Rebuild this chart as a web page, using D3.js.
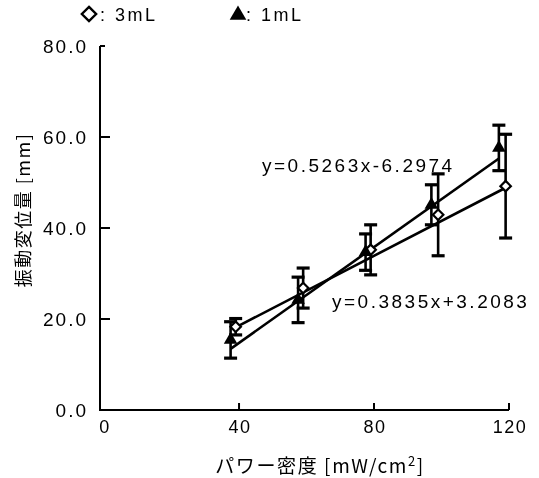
<!DOCTYPE html>
<html>
<head>
<meta charset="utf-8">
<script src="https://cdn.jsdelivr.net/npm/d3@7"></script>
<style>
  html, body { margin: 0; padding: 0; background: #fff; }
  svg { display: block; will-change: transform; }
  text { font-family: "Liberation Sans", Arial, sans-serif; fill: #000; }
</style>
</head>
<body>
<svg id="chart" width="539" height="478"></svg>
<script>
// Vibration displacement vs. power density, two liquid volumes
const xTicks = [0, 40, 80, 120];
const yTicks = [0, 20, 40, 60, 80];

// 3 mL series (open diamonds)
const x3 = [39, 59, 79, 99, 119];
const mean3 = [18.3, 26.8, 35.2, 42.9, 49.2];
const sd3 = [1.8, 4.4, 5.5, 9.0, 11.4];

// 1 mL series (filled triangles)
const x1 = [37.5, 57.5, 77.5, 97, 117];
const mean1 = [15.4, 24.2, 34.7, 45.1, 57.6];
const sd1 = [4.0, 5.0, 4.0, 4.4, 5.0];

// linear fits: [slope, intercept]
const fit3 = [0.3835, 3.2083];
const fit1 = [0.5263, -6.2974];
const eq3 = "y=0.3835x+3.2083";
const eq1 = "y=0.5263x-6.2974";

const svg = d3.select("#chart");
const x = d3.scaleLinear().domain([-1.2, 120]).range([100, 509]);
const y = d3.scaleLinear().domain([0, 80]).range([410, 46]);
const x0 = x.range()[0];

// axes
const g = svg.append("g");
g.append("path")
  .attr("d", `M${x0},${y(80)}V${y(0)}H${x(120)}`)
  .attr("fill", "none").attr("stroke", "#000").attr("stroke-width", 2);

// y ticks (pointing inward)
g.selectAll(".yt").data(yTicks.filter(d => d > 0)).join("line")
  .attr("x1", x0).attr("x2", d => x0 + (d === 80 ? 5 : 10))
  .attr("y1", d => y(d)).attr("y2", d => y(d))
  .attr("stroke", "#000").attr("stroke-width", 2);
g.selectAll(".yl").data(yTicks).join("text")
  .attr("x", 88).attr("y", d => y(d))
  .attr("text-anchor", "end").attr("dominant-baseline", "central")
  .attr("font-size", 19).attr("letter-spacing", 2)
  .text(d => d3.format(".1f")(d));

// x ticks (pointing inward)
g.selectAll(".xt").data(xTicks.filter(d => d > 0)).join("line")
  .attr("x1", d => x(d)).attr("x2", d => x(d))
  .attr("y1", y(0)).attr("y2", y(0) - 7)
  .attr("stroke", "#000").attr("stroke-width", 2);
g.selectAll(".xl").data(xTicks).join("text")
  .attr("x", d => x(d) + 1).attr("y", 433)
  .attr("text-anchor", "middle")
  .attr("font-size", 18).attr("letter-spacing", 1.5)
  .text(d => d);

// axis titles
svg.append("text")
  .attr("transform", "translate(22,210) rotate(-90)")
  .attr("text-anchor", "middle").attr("dominant-baseline", "central")
  .attr("font-size", 18).attr("letter-spacing", 1.5)
  .style("font-family", "'Noto Sans CJK JP', sans-serif")
  .style("fill", "#000")
  .text("振動変位量 [mm]");
const xt = svg.append("text")
  .attr("x", 320).attr("y", 473)
  .attr("text-anchor", "middle")
  .attr("font-size", 19).attr("letter-spacing", 1.6)
  .style("font-family", "'Noto Sans CJK JP', sans-serif")
  .style("fill", "#000");
xt.append("tspan").text("パワー密度 [mW/cm");
xt.append("tspan").attr("font-size", 13).attr("dy", -7).text("2");
xt.append("tspan").attr("dy", 7).text("]");

// fit lines
function fitLine(xs, fit) {
  const xa = d3.min(xs), xb = d3.max(xs);
  return [[xa, fit[0] * xa + fit[1]], [xb, fit[0] * xb + fit[1]]];
}
const line = d3.line().x(d => x(d[0])).y(d => y(d[1]));
[[x3, fit3], [x1, fit1]].forEach(([xs, fit]) => {
  svg.append("path").attr("d", line(fitLine(xs, fit)))
    .attr("fill", "none").attr("stroke", "#000").attr("stroke-width", 2.6);
});

// error bars
function errorBars(xs, means, sds) {
  const data = xs.map((v, i) => ({ x: v, m: means[i], s: sds[i] }));
  const eg = svg.append("g").attr("stroke", "#000");
  eg.selectAll(".v").data(data).join("line")
    .attr("x1", d => x(d.x)).attr("x2", d => x(d.x))
    .attr("y1", d => y(d.m - d.s)).attr("y2", d => y(d.m + d.s))
    .attr("stroke-width", 2.6);
  eg.selectAll(".c").data(data.flatMap(d => [d.m - d.s, d.m + d.s].map(v => ({ x: d.x, v }))))
    .join("line")
    .attr("x1", d => x(d.x) - 6.5).attr("x2", d => x(d.x) + 6.5)
    .attr("y1", d => y(d.v)).attr("y2", d => y(d.v))
    .attr("stroke-width", 3.2);
}
errorBars(x3, mean3, sd3);
errorBars(x1, mean1, sd1);

// markers
const diamond = d3.symbol().type(d3.symbolDiamond2).size(70);
const triangle = d3.symbol().type(d3.symbolTriangle).size(80);
svg.append("g").selectAll("path").data(x3.map((v, i) => [v, mean3[i]])).join("path")
  .attr("d", diamond).attr("transform", d => `translate(${x(d[0])},${y(d[1])})`)
  .attr("fill", "#fff").attr("stroke", "#000").attr("stroke-width", 2.2);
svg.append("g").selectAll("path").data(x1.map((v, i) => [v, mean1[i]])).join("path")
  .attr("d", triangle).attr("transform", d => `translate(${x(d[0])},${y(d[1])})`)
  .attr("fill", "#000");

// equation labels
svg.append("text").attr("x", 262).attr("y", 172)
  .attr("font-size", 19).attr("letter-spacing", 2.5).text(eq1);
svg.append("text").attr("x", 332).attr("y", 308)
  .attr("font-size", 19).attr("letter-spacing", 2.5).text(eq3);

// legend
svg.append("path").attr("d", d3.symbol().type(d3.symbolDiamond2).size(130)())
  .attr("transform", "translate(89,14)")
  .attr("fill", "#fff").attr("stroke", "#000").attr("stroke-width", 2.4);
svg.append("text").attr("x", 100).attr("y", 21)
  .attr("font-size", 18).attr("letter-spacing", 2.5).text(": 3mL");
svg.append("path").attr("d", d3.symbol().type(d3.symbolTriangle).size(120)())
  .attr("transform", "translate(238,15)").attr("fill", "#000");
svg.append("text").attr("x", 246).attr("y", 21)
  .attr("font-size", 18).attr("letter-spacing", 2.5).text(": 1mL");
</script>
</body>
</html>
